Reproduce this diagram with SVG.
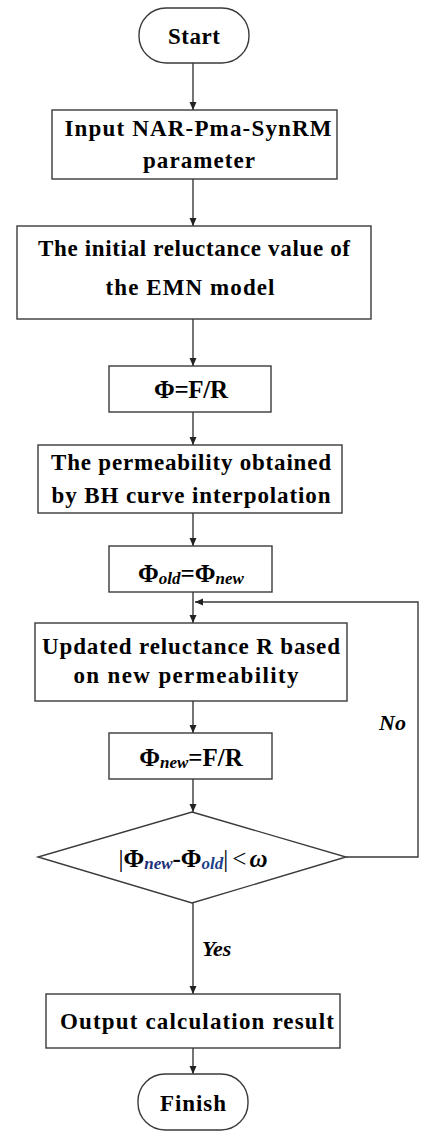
<svg xmlns="http://www.w3.org/2000/svg" width="425" height="1134" viewBox="0 0 425 1134">
<style>
.shape{fill:#fff;stroke:#3a3a3a;stroke-width:1.4}
.t{font-family:"Liberation Serif","Times New Roman",serif;font-weight:bold;font-size:23px;fill:#000;text-anchor:middle}
.f{font-size:25px}
.sub{font-style:italic;font-size:17px}
.lbl{font-family:"Liberation Serif","Times New Roman",serif;font-weight:bold;font-style:italic;font-size:22px;fill:#000}
.c{fill:none;stroke:#3a3a3a;stroke-width:1.4}
</style>
<defs>
<marker id="ah" markerUnits="userSpaceOnUse" markerWidth="8" markerHeight="8" refX="8" refY="4" orient="auto">
<path d="M0,0.5 L8,4 L0,7.5 z" fill="#222"/>
</marker>
</defs>
<rect width="425" height="1134" fill="#fff"/>
<g id="connectors">
<line class="c" x1="193" y1="63" x2="193" y2="110" marker-end="url(#ah)"/>
<line class="c" x1="193" y1="179" x2="193" y2="226" marker-end="url(#ah)"/>
<line class="c" x1="193" y1="319" x2="193" y2="366" marker-end="url(#ah)"/>
<line class="c" x1="193" y1="412" x2="193" y2="445" marker-end="url(#ah)"/>
<line class="c" x1="193" y1="513" x2="193" y2="546" marker-end="url(#ah)"/>
<line class="c" x1="193" y1="592" x2="193" y2="623" marker-end="url(#ah)"/>
<line class="c" x1="193" y1="701" x2="193" y2="733" marker-end="url(#ah)"/>
<line class="c" x1="193" y1="779" x2="193" y2="812" marker-end="url(#ah)"/>
<line class="c" x1="193" y1="903" x2="193" y2="994" marker-end="url(#ah)"/>
<line class="c" x1="193" y1="1048" x2="193" y2="1074" marker-end="url(#ah)"/>
<polyline class="c" points="346,857 418,857 418,602 195,602" marker-end="url(#ah)"/>
<text class="lbl" x="379" y="730">No</text>
<text class="lbl" x="202" y="956">Yes</text>
</g>
<g id="start">
<rect class="shape" x="139" y="8" width="110" height="55" rx="27" ry="27"/>
<text class="t" x="194" y="44" textLength="52">Start</text>
</g>
<g id="input">
<rect class="shape" x="52" y="110" width="285" height="69"/>
<text class="t" x="198" y="136" textLength="267">Input NAR-Pma-SynRM</text>
<text class="t" x="199" y="168" textLength="112">parameter</text>
</g>
<g id="initial">
<rect class="shape" x="17" y="226" width="354" height="93"/>
<text class="t" x="194" y="256" textLength="312">The initial reluctance value of</text>
<text class="t" x="190" y="295" textLength="169">the EMN model</text>
</g>
<g id="phi1">
<rect class="shape" x="109" y="366" width="162" height="46"/>
<text class="t f" x="191" y="398" textLength="74">Φ=F/R</text>
</g>
<g id="perm">
<rect class="shape" x="38" y="445" width="304" height="68"/>
<text class="t" x="191" y="470" textLength="280">The permeability obtained</text>
<text class="t" x="191" y="503" textLength="279">by BH curve interpolation</text>
</g>
<g id="phi2">
<rect class="shape" x="109" y="546" width="163" height="46"/>
<text class="t f" x="191" y="582">Φ<tspan class="sub" dy="2">old</tspan><tspan dy="-2">=Φ</tspan><tspan class="sub" dy="2">new</tspan></text>
</g>
<g id="update">
<rect class="shape" x="35" y="623" width="312" height="78"/>
<text class="t" x="191" y="654" textLength="298">Updated reluctance R based</text>
<text class="t" x="186" y="683" textLength="225">on new permeability</text>
</g>
<g id="phi3">
<rect class="shape" x="109" y="733" width="163" height="46"/>
<text class="t f" x="191" y="766">Φ<tspan class="sub" dy="2">new</tspan><tspan dy="-2">=F/R</tspan></text>
</g>
<g id="decision">
<polygon class="shape" points="192,812 346,857 192,903 38,857"/>
<text class="t f" x="193" y="867"><tspan font-weight="normal">|</tspan>Φ<tspan class="sub" dy="2" fill="#1c2f7a">new</tspan><tspan dy="-2">-Φ</tspan><tspan class="sub" dy="2" fill="#1c3f8a">old</tspan><tspan dy="-2" font-weight="normal">|</tspan><tspan font-weight="normal" dx="4">&lt;</tspan><tspan font-style="italic" dx="3">ω</tspan></text>
</g>
<g id="output">
<rect class="shape" x="46" y="994" width="294" height="54"/>
<text class="t" x="197" y="1029" textLength="274">Output calculation result</text>
</g>
<g id="finish">
<rect class="shape" x="138" y="1074" width="110" height="56" rx="27" ry="27"/>
<text class="t" x="193" y="1111" textLength="66">Finish</text>
</g>
</svg>
